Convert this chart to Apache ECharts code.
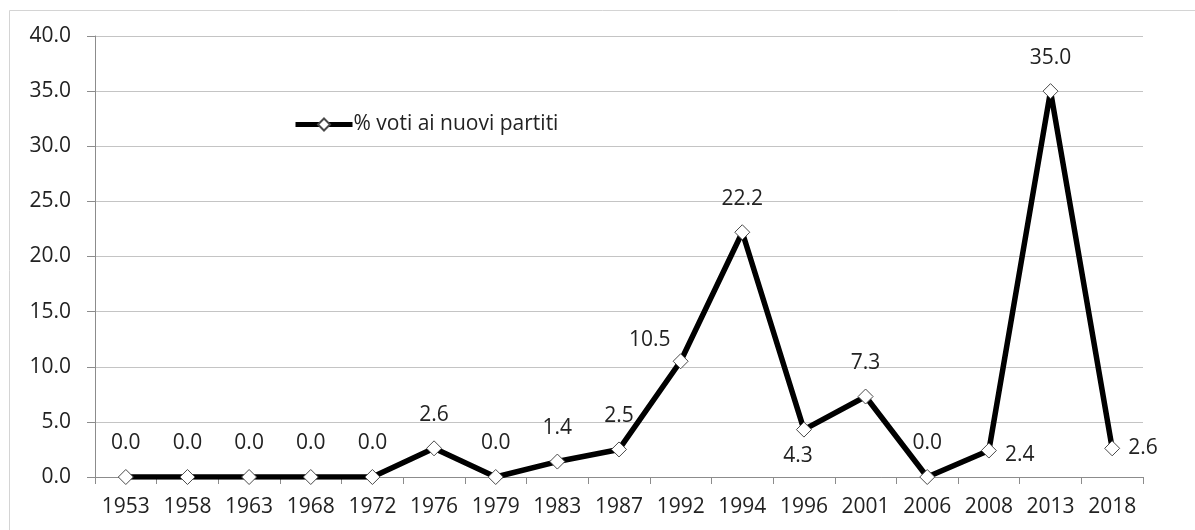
<!DOCTYPE html>
<html>
<head>
<meta charset="utf-8">
<script src="https://cdn.jsdelivr.net/npm/echarts@6/dist/echarts.min.js"></script>
<style>
  html, body { margin: 0; padding: 0; background: #fff; }
  #chart { width: 1195px; height: 530px; }
</style>
</head>
<body>
<div id="chart"></div>
<script>
// Election years
const years = ['1953', '1958', '1963', '1968', '1972', '1976', '1979', '1983', '1987',
  '1992', '1994', '1996', '2001', '2006', '2008', '2013', '2018'];
// Share of votes going to new parties (%)
const newPartyVotes = [0.0, 0.0, 0.0, 0.0, 0.0, 2.6, 0.0, 1.4, 2.5,
  10.5, 22.2, 4.3, 7.3, 0.0, 2.4, 35.0, 2.6];
const seriesName = '% voti ai nuovi partiti';
const yTicks = { min: 0, max: 40, interval: 5 };

// Label placement for points whose value label is not above the marker
const labelPlacement = {
  '1992': { position: 'top', offset: [-31, 12] },
  '1996': { position: 'bottom', distance: 8, offset: [-6, 0] },
  '2008': { position: 'right', distance: 8, offset: [0, 4] },
  '2018': { position: 'right', distance: 8 }
};

const font = '"Open Sans", "Noto Sans", sans-serif';
const textColor = '#222222';
const fontSize = 21;

const seriesData = newPartyVotes.map((v, i) => {
  const p = labelPlacement[years[i]];
  return p ? { value: v, label: Object.assign({}, p) } : { value: v };
});

const chart = echarts.init(document.getElementById('chart'), null, { renderer: 'canvas' });
chart.setOption({
  animation: false,
  backgroundColor: '#ffffff',
  textStyle: { fontFamily: font },
  graphic: [
    { type: 'polyline', shape: { points: [[9.5, 530], [9.5, 10.5], [1195, 10.5]] },
      style: { stroke: '#d4d4d4', lineWidth: 1, fill: null }, silent: true }
  ],
  grid: { left: 95, right: 52, top: 36, bottom: 53, containLabel: false },
  legend: {
    show: true,
    left: 288,
    top: 109,
    itemWidth: 57,
    itemHeight: 15,
    itemGap: 0,
    lineStyle: { width: 5, color: '#000000' },
    textStyle: { fontFamily: font, fontSize: fontSize, color: textColor, padding: [0, 0, 0, -4] },
    data: [seriesName]
  },
  xAxis: {
    type: 'category',
    data: years,
    boundaryGap: true,
    axisLine: { show: true, lineStyle: { color: '#8c8c8c', width: 1 } },
    axisTick: { show: true, alignWithLabel: false, length: 7, lineStyle: { color: '#8c8c8c' } },
    axisLabel: { fontFamily: font, fontSize: fontSize, color: textColor, margin: 20, interval: 0 },
    splitLine: { show: false }
  },
  yAxis: {
    type: 'value',
    min: yTicks.min,
    max: yTicks.max,
    interval: yTicks.interval,
    axisLine: { show: true, lineStyle: { color: '#8c8c8c', width: 1 } },
    axisTick: { show: true, inside: false, length: 8, lineStyle: { color: '#8c8c8c' } },
    axisLabel: {
      fontFamily: font, fontSize: fontSize, color: textColor, margin: 24,
      formatter: v => v.toFixed(1)
    },
    splitLine: { show: true, lineStyle: { color: '#c4c4c4', width: 1 } }
  },
  series: [{
    name: seriesName,
    type: 'line',
    data: seriesData,
    symbol: 'diamond',
    symbolSize: 15,
    showAllSymbol: true,
    lineStyle: { color: '#000000', width: 5.5 },
    itemStyle: { color: '#ffffff', borderColor: '#4a4a4a', borderWidth: 1 },
    label: {
      show: true,
      position: 'top',
      distance: 15,
      fontFamily: font,
      fontSize: fontSize,
      color: textColor,
      formatter: p => Number(p.value).toFixed(1)
    },
    emphasis: { disabled: true },
    z: 3
  }]
});
</script>
</body>
</html>
